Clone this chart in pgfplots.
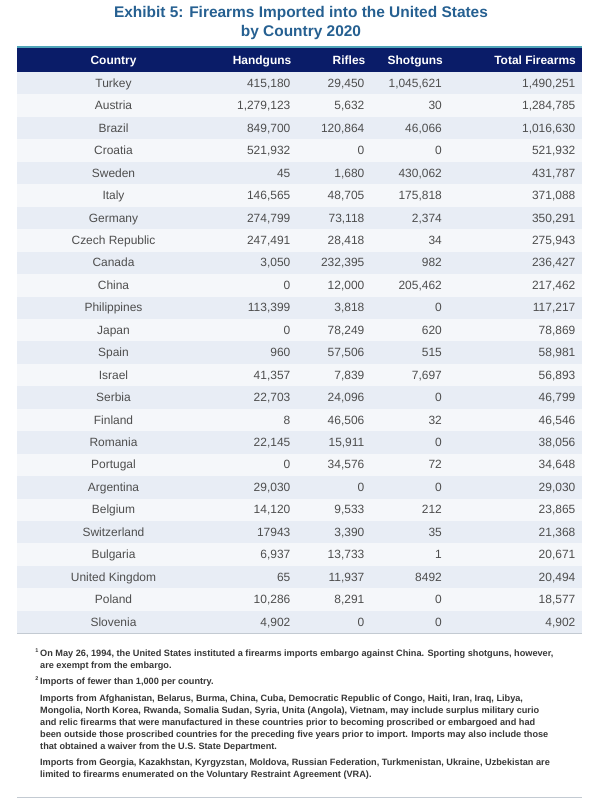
\documentclass[border=0pt]{standalone}
\usepackage{pgfplots}
\pgfplotsset{compat=1.18}
\usepackage{pgfplotstable}
\usepackage{fontspec}
\setmainfont{Liberation Sans}
\pgfkeys{/pgf/number format/assume math mode=true}
\definecolor{navy}{RGB}{10,28,104}
\definecolor{tealline}{RGB}{80,165,185}
\definecolor{stripeA}{RGB}{232,237,245}
\definecolor{stripeB}{RGB}{245,247,250}
\definecolor{txtgray}{RGB}{78,78,78}
\definecolor{titleblue}{RGB}{38,96,145}
\definecolor{notegray}{RGB}{55,55,55}
\definecolor{rulegray}{RGB}{195,202,210}
\newcommand\rowfont{\fontsize{12}{14}\selectfont}
\newcommand\fnt{\fontsize{9.2}{11}\selectfont\bfseries}

\pgfplotstableread[col sep=comma]{
i,country,hand,rifle,shot,total
0,Turkey,415180,29450,1045621,1490251
1,Austria,1279123,5632,30,1284785
2,Brazil,849700,120864,46066,1016630
3,Croatia,521932,0,0,521932
4,Sweden,45,1680,430062,431787
5,Italy,146565,48705,175818,371088
6,Germany,274799,73118,2374,350291
7,Czech Republic,247491,28418,34,275943
8,Canada,3050,232395,982,236427
9,China,0,12000,205462,217462
10,Philippines,113399,3818,0,117217
11,Japan,0,78249,620,78869
12,Spain,960,57506,515,58981
13,Israel,41357,7839,7697,56893
14,Serbia,22703,24096,0,46799
15,Finland,8,46506,32,46546
16,Romania,22145,15911,0,38056
17,Portugal,0,34576,72,34648
18,Argentina,29030,0,0,29030
19,Belgium,14120,9533,212,23865
20,Switzerland,17943,3390,35,21368
21,Bulgaria,6937,13733,1,20671
22,United Kingdom,65,11937,8492,20494
23,Poland,10286,8291,0,18577
24,Slovenia,4902,0,0,4902
}\imports

\pgfplotsset{
  numsep/.style={only marks, mark=none, point meta=explicit symbolic,
    nodes near coords={\pgfmathprintnumber[fixed,precision=0,1000 sep={,}]{\pgfplotspointmeta}},
    every node near coord/.style={anchor=base east, inner sep=0pt, font=\rowfont, text=txtgray}},
  numnosep/.style={only marks, mark=none, point meta=explicit symbolic,
    nodes near coords={\pgfmathprintnumber[fixed,precision=0,1000 sep={}]{\pgfplotspointmeta}},
    every node near coord/.style={anchor=base east, inner sep=0pt, font=\rowfont, text=txtgray}},
}
\tikzset{fn/.style={anchor=base west, inner sep=0pt, font=\fnt, text=notegray}}

\begin{document}
\begin{tikzpicture}
\begin{axis}[
  x=1bp, y=1bp, y dir=reverse,
  xmin=0, xmax=602, ymin=0, ymax=805,
  hide axis, clip=false, scale only axis,
]
\path (axis cs:0,0) rectangle (axis cs:602,805);
% title
\node[anchor=base, font=\fontsize{15.5}{18}\selectfont\bfseries, text=titleblue, inner sep=0pt] at (axis cs:301,17.5) {Exhibit 5: Firearms Imported into the United States};
\node[anchor=base, font=\fontsize{15.5}{18}\selectfont\bfseries, text=titleblue, inner sep=0pt] at (axis cs:301,36.5) {by Country 2020};
% header
\fill[tealline] (axis cs:17,46.3) rectangle (axis cs:582,48.5);
\fill[navy] (axis cs:17,48.5) rectangle (axis cs:582,72);
\node[anchor=base, font=\rowfont\bfseries, text=white, inner sep=0pt] at (axis cs:113.5,64.3) {Country};
\node[anchor=base east, font=\rowfont\bfseries, text=white, inner sep=0pt] at (axis cs:291.5,64.3) {Handguns};
\node[anchor=base east, font=\rowfont\bfseries, text=white, inner sep=0pt] at (axis cs:365.5,64.3) {Rifles};
\node[anchor=base east, font=\rowfont\bfseries, text=white, inner sep=0pt] at (axis cs:443,64.3) {Shotguns};
\node[anchor=base east, font=\rowfont\bfseries, text=white, inner sep=0pt] at (axis cs:576,64.3) {Total Firearms};
% stripes
\fill[stripeB] (axis cs:17,72) rectangle (axis cs:582,633.25);
\fill[stripeA] (axis cs:17,72.00) rectangle (axis cs:582,94.45);
\fill[stripeA] (axis cs:17,116.90) rectangle (axis cs:582,139.35);
\fill[stripeA] (axis cs:17,161.80) rectangle (axis cs:582,184.25);
\fill[stripeA] (axis cs:17,206.70) rectangle (axis cs:582,229.15);
\fill[stripeA] (axis cs:17,251.60) rectangle (axis cs:582,274.05);
\fill[stripeA] (axis cs:17,296.50) rectangle (axis cs:582,318.95);
\fill[stripeA] (axis cs:17,341.40) rectangle (axis cs:582,363.85);
\fill[stripeA] (axis cs:17,386.30) rectangle (axis cs:582,408.75);
\fill[stripeA] (axis cs:17,431.20) rectangle (axis cs:582,453.65);
\fill[stripeA] (axis cs:17,476.10) rectangle (axis cs:582,498.55);
\fill[stripeA] (axis cs:17,521.00) rectangle (axis cs:582,543.45);
\fill[stripeA] (axis cs:17,565.90) rectangle (axis cs:582,588.35);
\fill[stripeA] (axis cs:17,610.80) rectangle (axis cs:582,633.25);
\draw[rulegray, line width=1bp] (axis cs:17,633.5) -- (axis cs:582,633.5);
% data
\addplot[only marks, mark=none, point meta=explicit symbolic,
  nodes near coords,
  every node near coord/.style={anchor=base, inner sep=0pt, font=\rowfont, text=txtgray}]
  table[x expr=113.5, y expr={87.3+22.45*\thisrow{i}}, meta=country] {\imports};
\addplot[numsep, skip coords between index={20}{21}] table[x expr=290.5, y expr={87.3+22.45*\thisrow{i}}, meta=hand] {\imports};
\addplot[numnosep, skip coords between index={0}{20}, skip coords between index={21}{25}] table[x expr=290.5, y expr={87.3+22.45*\thisrow{i}}, meta=hand] {\imports};
\addplot[numsep] table[x expr=364.5, y expr={87.3+22.45*\thisrow{i}}, meta=rifle] {\imports};
\addplot[numsep, skip coords between index={22}{23}] table[x expr=442, y expr={87.3+22.45*\thisrow{i}}, meta=shot] {\imports};
\addplot[numnosep, skip coords between index={0}{22}, skip coords between index={23}{25}] table[x expr=442, y expr={87.3+22.45*\thisrow{i}}, meta=shot] {\imports};
\addplot[numsep] table[x expr=575.5, y expr={87.3+22.45*\thisrow{i}}, meta=total] {\imports};
% footnotes
\node[anchor=base east, inner sep=0pt, font=\fontsize{5.5}{6}\selectfont\bfseries, text=notegray] at (axis cs:38.5,652.5) {1};
\node[fn] at (axis cs:40,656) {On May 26, 1994, the United States instituted a firearms imports embargo against China. Sporting shotguns, however,};
\node[fn] at (axis cs:40,668) {are exempt from the embargo.};
\node[anchor=base east, inner sep=0pt, font=\fontsize{5.5}{6}\selectfont\bfseries, text=notegray] at (axis cs:38.5,680.5) {2};
\node[fn] at (axis cs:40,684) {Imports of fewer than 1,000 per country.};
\node[fn] at (axis cs:40,701) {Imports from Afghanistan, Belarus, Burma, China, Cuba, Democratic Republic of Congo, Haiti, Iran, Iraq, Libya,};
\node[fn] at (axis cs:40,713) {Mongolia, North Korea, Rwanda, Somalia Sudan, Syria, Unita (Angola), Vietnam, may include surplus military curio};
\node[fn] at (axis cs:40,725) {and relic firearms that were manufactured in these countries prior to becoming proscribed or embargoed and had};
\node[fn] at (axis cs:40,737) {been outside those proscribed countries for the preceding five years prior to import. Imports may also include those};
\node[fn] at (axis cs:40,749) {that obtained a waiver from the U.S. State Department.};
\node[fn] at (axis cs:40,765) {Imports from Georgia, Kazakhstan, Kyrgyzstan, Moldova, Russian Federation, Turkmenistan, Ukraine, Uzbekistan are};
\node[fn] at (axis cs:40,777) {limited to firearms enumerated on the Voluntary Restraint Agreement (VRA).};
\draw[rulegray, line width=1bp] (axis cs:17,797.5) -- (axis cs:582,797.5);
\end{axis}
\end{tikzpicture}
\end{document}
